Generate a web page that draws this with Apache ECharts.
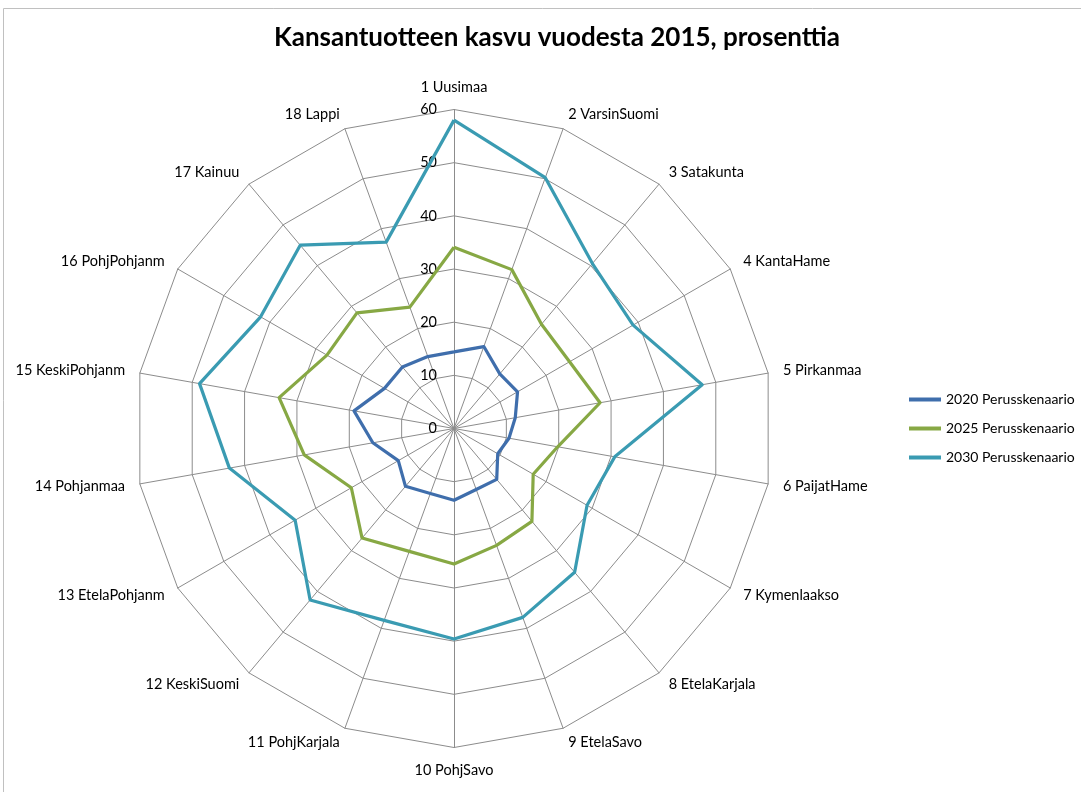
<!DOCTYPE html>
<html>
<head>
<meta charset="utf-8">
<script src="https://cdn.jsdelivr.net/npm/echarts@6/dist/echarts.min.js"></script>
<style>
html,body{margin:0;padding:0;background:#fff;}
#chart{width:1081px;height:792px;}
</style>
</head>
<body>
<div id="chart"></div>
<script>
const categories = ['1 Uusimaa','2 VarsinSuomi','3 Satakunta','4 KantaHame','5 Pirkanmaa','6 PaijatHame','7 Kymenlaakso','8 EtelaKarjala','9 EtelaSavo','10 PohjSavo','11 PohjKarjala','12 KeskiSuomi','13 EtelaPohjanm','14 Pohjanmaa','15 KeskiPohjanm','16 PohjPohjanm','17 Kainuu','18 Lappi'];
const seriesNames = ['2020 Perusskenaario','2025 Perusskenaario','2030 Perusskenaario'];
const values2020 = [14.4,16.4,13.4,13.8,11.7,10.5,9.5,12.5,12.2,13.5,13.0,14.2,12.1,15.5,19.1,15.1,15.1,14.4];
const values2025 = [34.1,31.8,25.6,25.1,27.9,19.8,17.2,22.8,23.4,25.5,24.6,26.9,22.3,28.6,33.4,27.6,28.4,24.3];
const values2030 = [58.0,50.2,40.5,38.9,47.4,30.7,28.9,35.3,37.8,39.6,38.4,42.1,34.5,42.9,48.6,42.0,45.0,37.3];
const axisMin = 0, axisMax = 60, axisStep = 10;
const title = 'Kansantuotteen kasvu vuodesta 2015, prosenttia';

// ECharts places indicators counter-clockwise; reorder so they run clockwise from the top
function cw(arr){ return [arr[0]].concat(arr.slice(1).reverse()); }
const order = cw(categories);
const colors = ['#3F6EAC','#87A844','#3A9BB2'];
const font = 'Lato, "Open Sans", sans-serif';

const chart = echarts.init(document.getElementById('chart'));
chart.setOption({
  animation:false,
  backgroundColor:'#fff',
  color: colors,
  title:{
    text:title, left:552, top:20, textAlign:'center',
    textStyle:{fontFamily:font, fontWeight:'bold', fontSize:26, color:'#000'}
  },
  graphic:[{
    type:'rect', silent:true, z:-1,
    shape:{x:3.5,y:8.5,width:1300,height:1000},
    style:{fill:null, stroke:'#c0c0c0', lineWidth:1}
  }],
  legend:{
    orient:'vertical', left:904, top:386,
    itemWidth:32, itemHeight:4, itemGap:12, icon:'rect',
    textStyle:{fontFamily:font, fontSize:14, color:'#000', lineHeight:17},
    data: seriesNames
  },
  radar:{
    center:[454,428.5], radius:319, startAngle:90,
    shape:'polygon', splitNumber:(axisMax-axisMin)/axisStep,
    nameGap:15,
    axisName:{color:'#000', fontFamily:font, fontSize:14.5},
    splitArea:{show:false},
    splitLine:{lineStyle:{color:'#8c8c8c', width:1}},
    axisLine:{lineStyle:{color:'#8c8c8c', width:1}},
    axisTick:{show:false},
    axisLabel:{show:false},
    indicator: order.map((name, i) => {
      const o = {name:name, min:axisMin, max:axisMax};
      if (i === 0) o.axisLabel = {show:true, color:'#000', fontFamily:font, fontSize:14.5, margin:17, showMinLabel:true, showMaxLabel:true};
      return o;
    })
  },
  series:[{
    type:'radar',
    symbol:'none',
    data:[
      {name:seriesNames[0], value:cw(values2020), lineStyle:{width:3.2, color:colors[0]}, itemStyle:{color:colors[0]}},
      {name:seriesNames[1], value:cw(values2025), lineStyle:{width:3.2, color:colors[1]}, itemStyle:{color:colors[1]}},
      {name:seriesNames[2], value:cw(values2030), lineStyle:{width:3.2, color:colors[2]}, itemStyle:{color:colors[2]}}
    ]
  }]
});
</script>
</body>
</html>
